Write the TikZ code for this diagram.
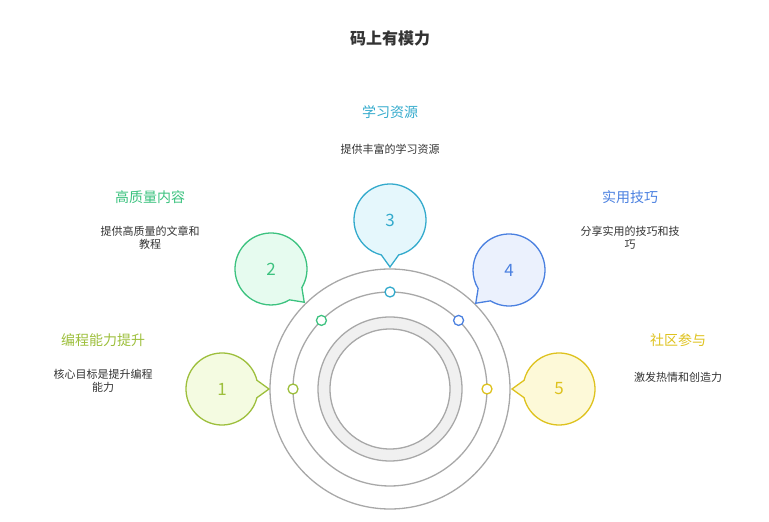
\documentclass[tikz,border=0pt]{standalone}
\usepackage{fontspec}
\setmainfont{Noto Sans CJK SC}
\usetikzlibrary{calc}
\definecolor{cA}{HTML}{9DBF3C}\definecolor{fA}{HTML}{F4FBE1}
\definecolor{cB}{HTML}{3CC27F}\definecolor{fB}{HTML}{E6FBEF}
\definecolor{cC}{HTML}{33AACC}\definecolor{fC}{HTML}{E5F7FC}
\definecolor{cD}{HTML}{4A80E0}\definecolor{fD}{HTML}{EBF1FD}
\definecolor{cE}{HTML}{DEC21E}\definecolor{fE}{HTML}{FDF9D8}
\definecolor{ring}{HTML}{A8A8A8}
\tikzset{
 lbl/.style={font=\fontsize{14}{16}\selectfont},
 desc/.style={font=\fontsize{11}{13}\selectfont,text=black!80,align=center},
 num/.style={font=\fontsize{17}{19}\selectfont,circle,minimum size=72pt,inner sep=0},
 dot/.style={circle,draw=#1,fill=white,line width=1.3pt,minimum size=10pt,inner sep=0}
}
\newcommand{\bubble}[4]{% node, angle, draw, fill
 \draw[#3,fill=#4,line width=1.3pt] ($(#1)+(#2+14:36)$) arc[start angle=#2+14,end angle=#2+346,radius=36] -- ($(#1)+(#2:47)$) -- cycle;}
\begin{document}
\begin{tikzpicture}[x=1pt,y=1pt]
\useasboundingbox (0,0) rectangle (769,522);
\coordinate (c) at (390,133);
\draw[ring,line width=1.3pt] (c) circle[radius=120];
\draw[ring,line width=1.3pt] (c) circle[radius=97];
\draw[ring,fill=black!6,line width=1.3pt,even odd rule] (c) circle[radius=72] (c) circle[radius=60];
\node[font=\bfseries\fontsize{16}{18}\selectfont,text=black!80] (t) at (390,484) {码上有模力};
\node[dot=cA] (d1) at ($(c)+(180:97)$) {};
\node[dot=cB] (d2) at ($(c)+(135:97)$) {};
\node[dot=cC] (d3) at ($(c)+(90:97)$) {};
\node[dot=cD] (d4) at ($(c)+(45:97)$) {};
\node[dot=cE] (d5) at ($(c)+(0:97)$) {};
\coordinate (b1) at (222,133);\coordinate (b2) at (271,253);\coordinate (b3) at (390,302);
\coordinate (b4) at (509,252);\coordinate (b5) at (559,133);
\bubble{b1}{0}{cA}{fA}\bubble{b2}{-45}{cB}{fB}\bubble{b3}{-90}{cC}{fC}
\bubble{b4}{-135}{cD}{fD}\bubble{b5}{180}{cE}{fE}
\node[num,text=cA] (n1) at (b1) {1};
\node[num,text=cB] (n2) at (b2) {2};
\node[num,text=cC] (n3) at (b3) {3};
\node[num,text=cD] (n4) at (b4) {4};
\node[num,text=cE] (n5) at (b5) {5};
\node[lbl,text=cC] (l3) at (390,410) {学习资源};
\node[desc] (e3) at (390,373) {提供丰富的学习资源};
\node[lbl,text=cB] (l2) at (150,325) {高质量内容};
\node[desc] (e2) at (150,284) {提供高质量的文章和\\教程};
\node[lbl,text=cD] (l4) at (630,325) {实用技巧};
\node[desc] (e4) at (630,284) {分享实用的技巧和技\\巧};
\node[lbl,text=cA] (l1) at (103,182) {编程能力提升};
\node[desc] (e1) at (103,141) {核心目标是提升编程\\能力};
\node[lbl,text=cE] (l5) at (678,182) {社区参与};
\node[desc] (e5) at (678,145) {激发热情和创造力};
\end{tikzpicture}
\end{document}
